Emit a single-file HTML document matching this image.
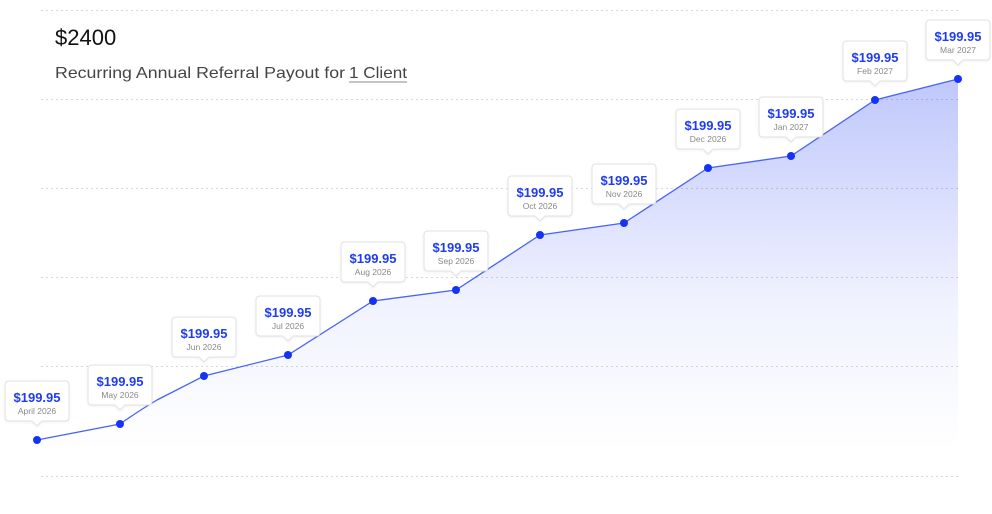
<!DOCTYPE html>
<html><head><meta charset="utf-8"><style>
body{margin:0;background:#fff;width:992px;height:509px;overflow:hidden;font-family:"Liberation Sans",sans-serif}
</style></head><body>
<svg width="992" height="509" viewBox="0 0 992 509" xmlns="http://www.w3.org/2000/svg">
<defs>
<linearGradient id="g" x1="0" y1="79" x2="0" y2="450" gradientUnits="userSpaceOnUse">
<stop offset="0" stop-color="#2a45f5" stop-opacity="0.3"/>
<stop offset="0.6" stop-color="#2a45f5" stop-opacity="0.07"/>
<stop offset="1" stop-color="#2a45f5" stop-opacity="0"/>
</linearGradient>
<filter id="sh" x="-20%" y="-20%" width="140%" height="150%"><feDropShadow dx="0" dy="1" stdDeviation="1" flood-color="#000" flood-opacity="0.06"/></filter>
</defs>
<g stroke="#d8d8d8" stroke-dasharray="2 3" stroke-width="1">
<line x1="41" y1="10.5" x2="958" y2="10.5"/>
<line x1="41" y1="99.5" x2="958" y2="99.5"/>
<line x1="41" y1="188.5" x2="958" y2="188.5"/>
<line x1="41" y1="277.5" x2="958" y2="277.5"/>
<line x1="41" y1="366.5" x2="958" y2="366.5"/>
<line x1="41" y1="476.5" x2="958" y2="476.5"/>
</g>
<text x="55" y="45" font-size="22" fill="#111">$2400</text>
<text x="55" y="78" font-size="16" fill="#444" textLength="290" lengthAdjust="spacingAndGlyphs">Recurring Annual Referral Payout for</text>
<text x="349" y="78" font-size="16" fill="#444" textLength="58" lengthAdjust="spacingAndGlyphs">1 Client</text>
<line x1="349" y1="82" x2="407" y2="82" stroke="#888" stroke-width="1"/>
<path d="M37,440 L120,424 Q140,410 157,400 L204,376 L288,355 L373,301 L456,290 L540,235 L624,223 L708,168 L791,156 L875,100 L958,79 L958,476 L37,476 Z" fill="url(#g)"/>
<path d="M37,440 L120,424 Q140,410 157,400 L204,376 L288,355 L373,301 L456,290 L540,235 L624,223 L708,168 L791,156 L875,100 L958,79" fill="none" stroke="#4a63f5" stroke-width="1.3"/>
<g id="pts"></g>
</svg>
<script>
var P=[[37,440,"April 2026"],[120,424,"May 2026"],[204,376,"Jun 2026"],[288,355,"Jul 2026"],[373,301,"Aug 2026"],[456,290,"Sep 2026"],[540,235,"Oct 2026"],[624,223,"Nov 2026"],[708,168,"Dec 2026"],[791,156,"Jan 2027"],[875,100,"Feb 2027"],[958,79,"Mar 2027"]];
var s="";
P.forEach(function(p){var x=p[0],y=p[1],t=y-59,b=y-19,l=x-32,r=x+32;
s+='<path filter="url(#sh)" d="M'+(l+4)+','+t+' H'+(r-4)+' Q'+r+','+t+' '+r+','+(t+4)+' V'+(b-4)+' Q'+r+','+b+' '+(r-4)+','+b+' H'+(x+5)+' L'+x+','+(b+5)+' L'+(x-5)+','+b+' H'+(l+4)+' Q'+l+','+b+' '+l+','+(b-4)+' V'+(t+4)+' Q'+l+','+t+' '+(l+4)+','+t+' Z" fill="#fff" stroke="#e2e2e2" stroke-width="1"/>';
s+='<text x="'+x+'" y="'+(t+21)+'" text-anchor="middle" font-size="13" font-weight="bold" fill="#1f3cf0">$199.95</text>';
s+='<text x="'+x+'" y="'+(t+33)+'" text-anchor="middle" font-size="8.5" fill="#888">'+p[2]+'</text>';
s+='<circle cx="'+x+'" cy="'+y+'" r="4" fill="#1533f5"/>';});
document.getElementById("pts").innerHTML=s;
</script>
</body></html>
